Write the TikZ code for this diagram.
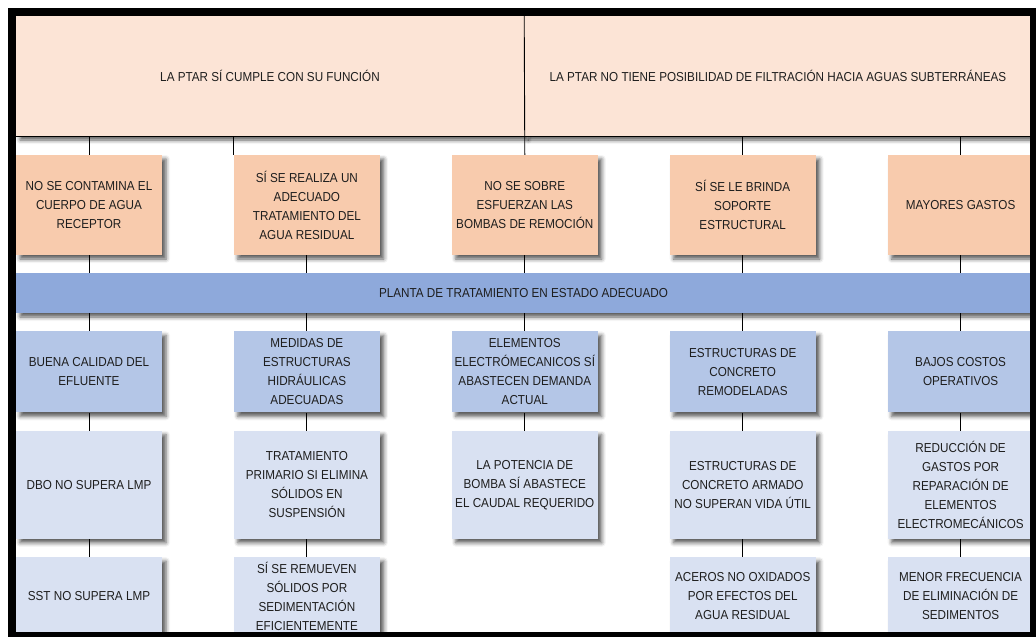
\documentclass[tikz,border=0pt]{standalone}
\usepackage{fontspec}
\setmainfont{Liberation Sans}[FakeStretch=0.9]
\usetikzlibrary{positioning,shadows.blur}
\definecolor{durazno}{HTML}{FCE4D6}
\definecolor{salmon}{HTML}{F8CBAD}
\definecolor{azulb}{HTML}{8EA9DB}
\definecolor{azulm}{HTML}{B4C6E7}
\definecolor{azulc}{HTML}{D9E1F2}
\definecolor{texto}{HTML}{1E1E1E}
\tikzset{
  caja/.style={inner sep=0pt,minimum width=146pt,align=center,text=texto,
    font=\fontsize{13}{19}\selectfont,
    blur shadow={shadow xshift=4pt,shadow yshift=-4pt,shadow blur radius=4pt,shadow opacity=65}},
  arriba/.style={caja,fill=durazno,minimum height=120pt},
  efecto/.style={caja,fill=salmon,minimum height=100pt},
  banda/.style={caja,fill=azulb,minimum width=1015pt,minimum height=40pt},
  medio/.style={caja,fill=azulm,minimum height=81pt},
  claro/.style={caja,fill=azulc,minimum height=108pt},
  ultimo/.style={caja,fill=azulc,minimum height=78pt},
  linea/.style={line width=0.9pt,black}
}
\begin{document}
\begin{tikzpicture}[x=1pt,y=-1pt]
  \useasboundingbox (0,0) rectangle (1036,637);
  \clip (0,0) rectangle (1036,637);

  \node [arriba,minimum width=508pt] (t1) at (270,76) {LA PTAR SÍ CUMPLE CON SU FUNCIÓN};
  \node [arriba,minimum width=507pt,right=0pt of t1] (t2) {LA PTAR NO TIENE POSIBILIDAD DE FILTRACIÓN HACIA AGUAS SUBTERRÁNEAS};

  \node [efecto] (a1) at (89,205) {NO SE CONTAMINA EL\\CUERPO DE AGUA\\RECEPTOR};
  \node [efecto,right=71.5pt of a1] (a2) {SÍ SE REALIZA UN\\ADECUADO\\TRATAMIENTO DEL\\AGUA RESIDUAL};
  \node [efecto,right=71.5pt of a2] (a3) {NO SE SOBRE\\ESFUERZAN LAS\\BOMBAS DE REMOCIÓN};
  \node [efecto,right=71.5pt of a3] (a4) {SÍ SE LE BRINDA\\SOPORTE\\ESTRUCTURAL};
  \node [efecto,right=71.5pt of a4] (a5) {MAYORES GASTOS};

  \node [banda] (banda) at (523.5,293) {PLANTA DE TRATAMIENTO EN ESTADO ADECUADO};

  \node [medio,anchor=north] (b1) at ([yshift=-18pt]a1 |- banda.south) {BUENA CALIDAD DEL\\EFLUENTE};
  \node [medio,anchor=north] (b2) at ([yshift=-18pt]a2 |- banda.south) {MEDIDAS DE\\ESTRUCTURAS\\HIDRÁULICAS\\ADECUADAS};
  \node [medio,anchor=north] (b3) at ([yshift=-18pt]a3 |- banda.south) {ELEMENTOS\\ELECTRÓMECANICOS SÍ\\ABASTECEN DEMANDA\\ACTUAL};
  \node [medio,anchor=north] (b4) at ([yshift=-18pt]a4 |- banda.south) {ESTRUCTURAS DE\\CONCRETO\\REMODELADAS};
  \node [medio,anchor=north] (b5) at ([yshift=-18pt]a5 |- banda.south) {BAJOS COSTOS\\OPERATIVOS};

  \node [claro,below=18pt of b1] (c1) {DBO NO SUPERA LMP};
  \node [claro,below=18pt of b2] (c2) {TRATAMIENTO\\PRIMARIO SI ELIMINA\\SÓLIDOS EN\\SUSPENSIÓN};
  \node [claro,below=18pt of b3] (c3) {LA POTENCIA DE\\BOMBA SÍ ABASTECE\\EL CAUDAL REQUERIDO};
  \node [claro,below=18pt of b4] (c4) {ESTRUCTURAS DE\\CONCRETO ARMADO\\NO SUPERAN VIDA ÚTIL};
  \node [claro,below=18pt of b5] (c5) {REDUCCIÓN DE\\GASTOS POR\\REPARACIÓN DE\\ELEMENTOS\\ELECTROMECÁNICOS};

  \node [ultimo,below=18pt of c1] (d1) {SST NO SUPERA LMP};
  \node [ultimo,below=18pt of c2] (d2) {SÍ SE REMUEVEN\\SÓLIDOS POR\\SEDIMENTACIÓN\\EFICIENTEMENTE};
  \node [ultimo,below=18pt of c4] (d4) {ACEROS NO OXIDADOS\\POR EFECTOS DEL\\AGUA RESIDUAL};
  \node [ultimo,below=18pt of c5] (d5) {MENOR FRECUENCIA\\DE ELIMINACIÓN DE\\SEDIMENTOS};

  % lineas de la parte superior
  \draw [linea] (t1.south west) -- (t2.south east);
  \draw [linea] (t1.north east) -- (a3.north);
  \draw [linea] (a1.north |- t1.south) -- (a1.north);
  \draw [linea] (a2.north west |- t1.south) -- (a2.north west);
  \draw [linea] (a4.north |- t1.south) -- (a4.north);
  \draw [linea] (a5.north |- t1.south) -- (a5.north);

  % hacia la banda
  \draw [linea] (a1.south) -- (a1.south |- banda.north);
  \draw [linea] (a2.south) -- (a2.south |- banda.north);
  \draw [linea] (a3.south) -- (a3.south |- banda.north);
  \draw [linea] (a4.south) -- (a4.south |- banda.north);
  \draw [linea] (a5.south) -- (a5.south |- banda.north);
  \draw [linea] (b1.north |- banda.south) -- (b1.north);
  \draw [linea] (b2.north |- banda.south) -- (b2.north);
  \draw [linea] (b3.north |- banda.south) -- (b3.north);
  \draw [linea] (b4.north |- banda.south) -- (b4.north);
  \draw [linea] (b5.north |- banda.south) -- (b5.north);

  % columnas
  \draw [linea] (b1) -- (c1);
  \draw [linea] (b2) -- (c2);
  \draw [linea] (b3) -- (c3);
  \draw [linea] (b4) -- (c4);
  \draw [linea] (b5) -- (c5);
  \draw [linea] (c1) -- (d1);
  \draw [linea] (c2) -- (d2);
  \draw [linea] (c4) -- (d4);
  \draw [linea] (c5) -- (d5);

  \draw [line width=8pt] (12,12) rectangle (1034,636);
\end{tikzpicture}
\end{document}
